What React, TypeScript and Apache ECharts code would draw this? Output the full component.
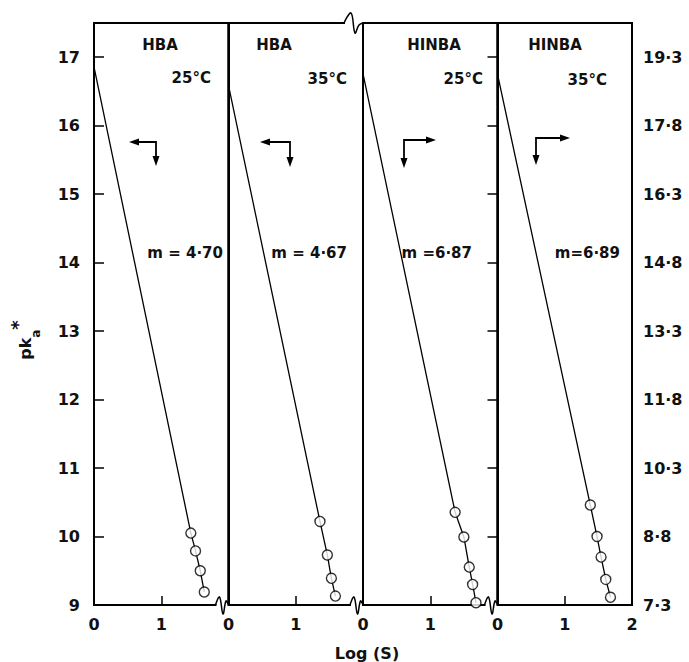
import React, { useEffect, useRef } from "react";
import * as echarts from "echarts";

const panelNames = ["HBA", "HBA", "HINBA", "HINBA"];
const panelTemps = ["25°C", "35°C", "25°C", "35°C"];
const panelSlopes = ["m = 4·70", "m = 4·67", "m =6·87", "m=6·89"];

const xTickValues = [0, 1, 2];
const leftTickValues = [9, 10, 11, 12, 13, 14, 15, 16, 17];
const rightTickValues = [7.3, 8.8, 10.3, 11.8, 13.3, 14.8, 16.3, 17.8, 19.3];

// line intercepts at Log(S) = 0 (HBA on left scale, HINBA on right scale)
const lineStart = [16.86, 16.59, 18.94, 18.93];

const logS1 = [1.44, 1.51, 1.58, 1.64];
const pka1 = [10.05, 9.79, 9.5, 9.19];
const logS2 = [1.36, 1.47, 1.53, 1.59];
const pka2 = [10.22, 9.73, 9.39, 9.13];
const logS3 = [1.37, 1.5, 1.58, 1.63, 1.68];
const pka3 = [9.33, 8.79, 8.13, 7.75, 7.35];
const logS4 = [1.38, 1.48, 1.54, 1.61, 1.68];
const pka4 = [9.49, 8.8, 8.35, 7.86, 7.47];

const logS = [logS1, logS2, logS3, logS4];
const pka = [pka1, pka2, pka3, pka4];

const FONT = "DejaVu Sans";

export default function App() {
  const ref = useRef<HTMLDivElement>(null);
  useEffect(() => {
    document.body.style.margin = "0";
    const chart = echarts.init(ref.current!, null, { renderer: "svg" });
    const L = 94;
    const W = 134.5;
    const T = 23;
    const H = 582;
    const B = T + H;
    const bounds = [0, 1, 2, 3].map((i) => L + i * W);

    const grids = [0, 1, 2, 3].map((i) => ({
      left: L + i * W,
      width: W,
      top: T,
      height: H,
      show: true,
      borderColor: "#000",
      borderWidth: 2,
      backgroundColor: "transparent",
      containLabel: false,
    }));

    const labelStyle = {
      fontSize: 16,
      fontFamily: FONT,
      fontWeight: "bold",
      color: "#111",
    };

    const xAxes = [0, 1, 2, 3].map((i) => ({
      type: "value",
      gridIndex: i,
      min: 0,
      max: 2,
      interval: 1,
      splitLine: { show: false },
      axisLine: { show: true, lineStyle: { color: "#000", width: 2 } },
      axisTick: {
        show: true,
        inside: true,
        length: 9,
        customValues: [1],
        lineStyle: { color: "#000", width: 1.5 },
      },
      axisLabel: {
        show: true,
        customValues: i < 3 ? xTickValues.slice(0, 2) : xTickValues,
        ...labelStyle,
        margin: 11,
      },
    }));

    const yAxes = [0, 1, 2, 3].map((i) => {
      const isLeft = i < 2;
      const base: any = {
        type: "value",
        gridIndex: i,
        min: isLeft ? 9 : 7.3,
        max: isLeft ? 17.5 : 20.05,
        splitLine: { show: false },
        axisLine: { show: true, lineStyle: { color: "#000", width: 2 } },
        position: i === 3 ? "right" : "left",
      };
      if (i === 0) {
        base.axisTick = {
          show: true,
          inside: true,
          length: 10,
          customValues: leftTickValues,
          lineStyle: { color: "#000", width: 1.5 },
        };
        base.axisLabel = {
          show: true,
          customValues: leftTickValues,
          ...labelStyle,
          margin: 14,
        };
      } else if (i === 3) {
        base.axisTick = {
          show: true,
          inside: true,
          length: 10,
          customValues: rightTickValues,
          lineStyle: { color: "#000", width: 1.5 },
        };
        base.axisLabel = {
          show: true,
          customValues: rightTickValues,
          ...labelStyle,
          margin: 11,
          formatter: (v: number) => v.toFixed(1).replace(".", "·"),
        };
      } else {
        base.axisTick = { show: false };
        base.axisLabel = { show: false };
      }
      return base;
    });

    const series: any[] = [];
    [0, 1, 2, 3].forEach((i) => {
      const pts = logS[i].map((x, k) => [x, pka[i][k]]);
      series.push({
        type: "line",
        xAxisIndex: i,
        yAxisIndex: i,
        data: [[0, lineStart[i]], ...pts],
        showSymbol: false,
        symbol: "none",
        lineStyle: { color: "#000", width: 1.3 },
        z: 2,
      });
      series.push({
        type: "scatter",
        xAxisIndex: i,
        yAxisIndex: i,
        data: pts,
        symbol: "circle",
        symbolSize: 10,
        itemStyle: { color: "#fff", borderColor: "#000", borderWidth: 1.4 },
        z: 3,
      });
    });

    const lineStyle = { stroke: "#000", lineWidth: 1.8 };
    const head = (x: number, y: number, dir: string) => {
      let pts: number[][] = [];
      if (dir === "left") pts = [[x, y], [x + 10, y - 3.5], [x + 10, y + 3.5]];
      if (dir === "right") pts = [[x, y], [x - 10, y - 3.5], [x - 10, y + 3.5]];
      if (dir === "down") pts = [[x, y], [x - 3.5, y - 10], [x + 3.5, y - 10]];
      return { type: "polygon", shape: { points: pts }, style: { fill: "#000" } };
    };
    const arrowLD = (x1: number, x2: number, y: number, yd: number) => [
      { type: "polyline", shape: { points: [[x1 + 4, y], [x2, y], [x2, yd - 4]] }, style: { ...lineStyle, fill: null } },
      head(x1, y, "left"),
      head(x2, yd, "down"),
    ];
    const arrowRD = (x1: number, x2: number, y: number, yd: number) => [
      { type: "polyline", shape: { points: [[x2 - 4, y], [x1, y], [x1, yd - 4]] }, style: { ...lineStyle, fill: null } },
      head(x2, y, "right"),
      head(x1, yd, "down"),
    ];

    const brkBottom = (bx: number) => [
      { type: "rect", shape: { x: bx - 12, y: B - 2, width: 11, height: 4 }, style: { fill: "#fff" }, z: 100 },
      {
        type: "polyline",
        shape: { points: [[bx - 13, B], [bx - 9, B - 8], [bx - 5.5, B + 9], [bx - 2.5, B - 4], [bx, B]], smooth: 0.4 },
        style: { stroke: "#000", lineWidth: 1.5, fill: null },
        z: 101,
      },
    ];
    const brkTop = (bx: number) => [
      { type: "rect", shape: { x: bx - 18, y: T - 2, width: 17, height: 4 }, style: { fill: "#fff" }, z: 100 },
      {
        type: "polyline",
        shape: { points: [[bx - 19, T], [bx - 12, T - 10], [bx - 8, T + 10], [bx - 4, T + 2], [bx, T]], smooth: 0.4 },
        style: { stroke: "#000", lineWidth: 1.5, fill: null },
        z: 101,
      },
    ];

    const txt = (s: string, x: number, y: number, align: string, size = 15) => ({
      type: "text",
      x,
      y,
      style: {
        text: s,
        fill: "#111",
        font: `bold ${size}px "${FONT}"`,
        textAlign: align,
        textVerticalAlign: "middle",
      },
      z: 50,
    });

    const titleX = [160, 274, 434, 555];
    const tempRight = [211, 347, 483, 607];
    const slopeRight = [223, 347, 472, 620];
    const tempY = [78, 79, 79, 80];

    const graphic: any[] = [];
    [0, 1, 2, 3].forEach((i) => {
      graphic.push(txt(panelNames[i], titleX[i], 45, "center"));
      graphic.push(txt(panelTemps[i], tempRight[i], tempY[i], "right"));
      graphic.push(txt(panelSlopes[i], slopeRight[i], 253, "right"));
    });
    graphic.push(...arrowLD(129, 156, 142, 166));
    graphic.push(...arrowLD(260, 290, 142, 167));
    graphic.push(...arrowRD(404, 436, 140, 168));
    graphic.push(...arrowRD(536, 570, 138, 165));
    graphic.push(...brkBottom(bounds[1]));
    graphic.push(...brkBottom(bounds[2]));
    graphic.push(...brkBottom(bounds[3]));
    graphic.push(...brkTop(bounds[2]));
    graphic.push(txt("Log (S)", 367, 653, "center", 16));
    graphic.push({
      type: "text",
      x: 25,
      y: 340,
      rotation: Math.PI / 2,
      style: {
        text: "{b|pk}{s|a}{u|*}",
        textAlign: "center",
        textVerticalAlign: "middle",
        rich: {
          b: { fontSize: 16, fontFamily: FONT, fontWeight: "bold", fill: "#111", lineHeight: 34 },
          s: { fontSize: 12, fontFamily: FONT, fontWeight: "bold", fill: "#111", lineHeight: 18, verticalAlign: "bottom" },
          u: { fontSize: 18, fontFamily: FONT, fontWeight: "bold", fill: "#111", lineHeight: 10, verticalAlign: "top" },
        },
      },
      z: 50,
    });

    chart.setOption({
      animation: false,
      grid: grids,
      xAxis: xAxes,
      yAxis: yAxes,
      series,
      graphic,
    });
    return () => chart.dispose();
  }, []);
  return <div ref={ref} style={{ width: 689, height: 662 }} />;
}
